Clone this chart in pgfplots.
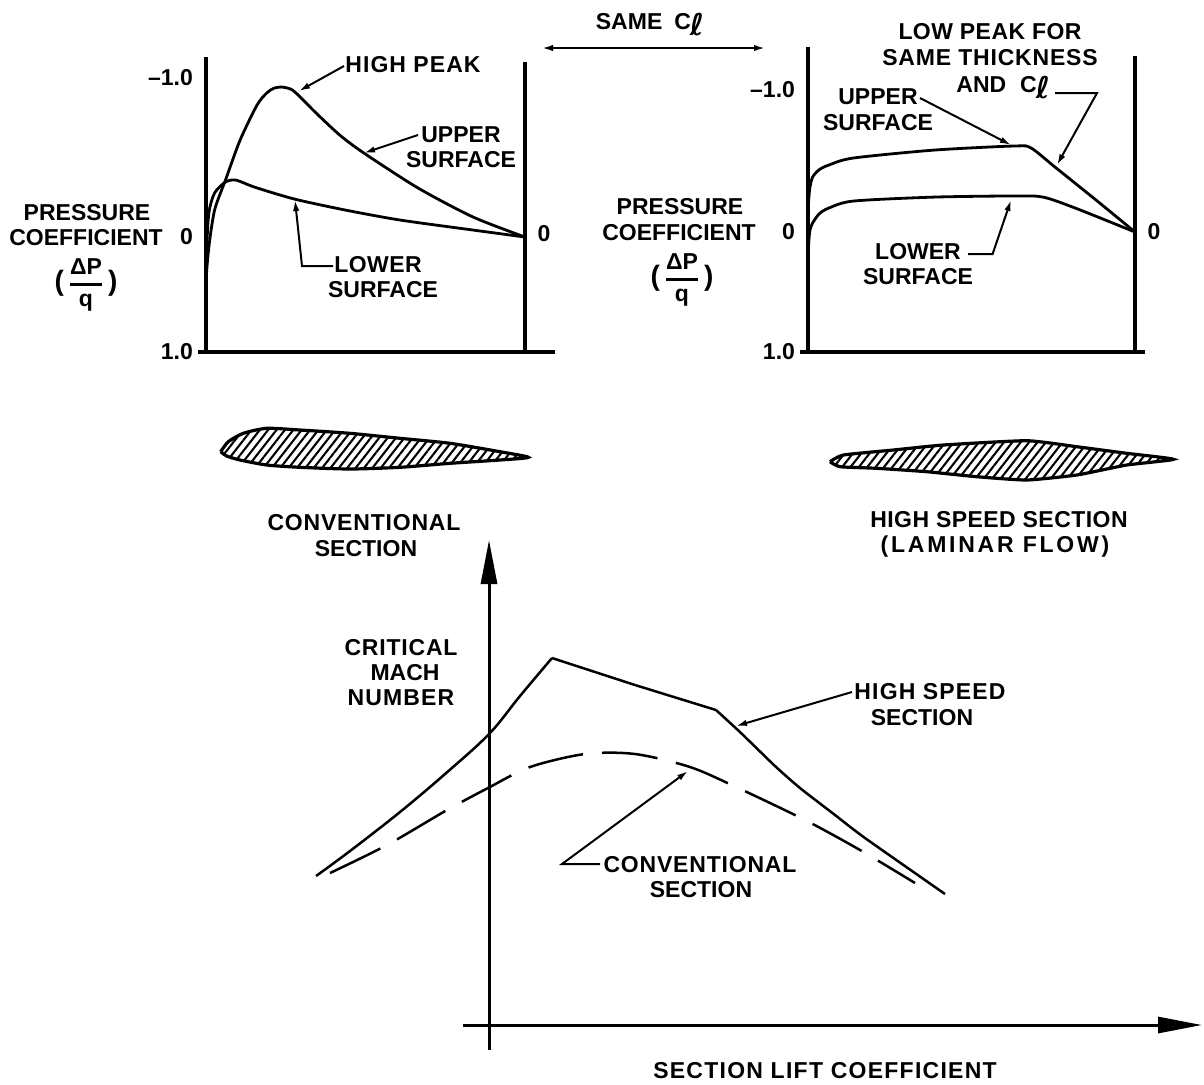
\documentclass[border=0pt]{standalone}
\usepackage{fontspec}
\setmainfont{Liberation Sans}
\newfontfamily\djv{DejaVu Sans Bold}
\usepackage{pgfplots}
\pgfplotsset{compat=1.18}
\usetikzlibrary{arrows.meta,patterns.meta}
\newcommand\lab{\bfseries\fontsize{11.5}{13}\selectfont}
\newcommand\ls[2]{{\addfontfeature{LetterSpace=#1}#2}}
\newcommand\Cl{C\hspace{-.5pt}\raisebox{-3pt}{\djv\fontsize{15}{15}\selectfont ℓ}}
\newcommand\dpq{{\fontsize{14}{14}\selectfont(}\,$\displaystyle{\hbox{ΔP}\above1.2pt\hbox{q}}$\,{\fontsize{14}{14}\selectfont)}}
\pgfplotsset{
  press/.style={
    scale only axis, clip=false,
    axis x line=bottom, axis y line=left,
    axis line style={line width=1.8pt,-},
    xtick=\empty, major tick length=0pt,
    xmin=0, xmax=1, y dir=reverse,
    tick label style={font=\lab},
    yticklabel style={xshift=-3pt},
  },
  curve/.style={black,line width=1.4pt,smooth,tension=.45,no markers},
  frame/.style={black,line width=1.8pt,no markers},
  mach/.style={black,line width=1.25pt,no markers},
  foil/.style={scale only axis,hide axis,clip=false},
  foilline/.style={black,line width=1.6pt,smooth,tension=.4,no markers,
    pattern={Lines[angle=52,distance=3.3pt,line width=1.05pt]}},
}
\begin{document}
\begin{tikzpicture}
\begin{scope}[x=0.5pt,y=0.5pt]
\useasboundingbox (0,0) rectangle (1204,-1084);
\end{scope}

% ---- left pressure distribution
\begin{axis}[press, at={(103pt,-176pt)}, anchor=south west, width=159.5pt, height=147.5pt,
  ymin=-1.132, ymax=0.723, ytick={-1,0,0.723},
  yticklabels={--1.0,0,\raisebox{-6pt}{1.0}}]
\addplot[curve] coordinates {(0,.60)(0,.289)(.009,.063)(.027,-.170)(.061,-.358)(.107,-.610)(.160,-.830)(.190,-.905)(.212,-.935)(.238,-.943)(.268,-.928)(.295,-.881)(.345,-.780)(.420,-.640)(.495,-.528)(.665,-.308)(.837,-.126)(1,0)};
\addplot[curve] coordinates {(0,.604)(.002,.101)(.009,-.151)(.027,-.277)(.061,-.346)(.094,-.358)(.152,-.314)(.277,-.239)(.436,-.170)(.608,-.107)(.837,-.044)(1,0)};
\addplot[frame] coordinates {(1,-1.10)(1,.723)};
\addplot[frame] coordinates {(-.025,.723)(1.095,.723)};
\end{axis}

% ---- right pressure distribution
\begin{axis}[press, at={(404pt,-176pt)}, anchor=south west, width=163.5pt, height=152.5pt,
  ymin=-1.303, ymax=0.845, ytick={-1,0,0.845},
  yticklabels={--1.0,0,\raisebox{-5pt}{1.0}}]
\addplot[curve] coordinates {(0,-.155)(.005,-.30)(.014,-.387)(.035,-.44)(.064,-.472)(.138,-.521)(.385,-.577)(.633,-.606)(.682,-.592)(.755,-.458)(.881,-.225)(1,0)};
\addplot[curve] coordinates {(0,.16)(.005,.0)(.014,-.063)(.035,-.13)(.064,-.169)(.138,-.218)(.385,-.246)(.633,-.254)(.719,-.246)(.817,-.169)(1,0)};
\addplot[frame] coordinates {(1,-1.24)(1,.845)};
\addplot[frame] coordinates {(-.025,.845)(1.03,.845)};
\end{axis}

% ---- airfoils
\begin{axis}[foil, at={(110pt,-238.5pt)}, anchor=south west, width=155pt, height=27.5pt, xmin=0, xmax=310, ymin=-25, ymax=30]
\addplot[foilline] coordinates {(0.7,0.3)(8.3,10.3)(23.3,18.7)(46.7,23.7)(80,22)(130,18.7)(180,13.7)(230,8.7)(280,0.3)(308.3,-5.3)(280,-8)(230,-11.3)(180,-15.3)(130,-17)(80,-15.3)(46.7,-13)(20,-8)(6.7,-4)(0.7,0.3)};
\end{axis}
\begin{axis}[foil, at={(415pt,-243.5pt)}, anchor=south west, width=172.5pt, height=27.5pt, xmin=0, xmax=345, ymin=-25, ymax=30]
\addplot[foilline,tension=.3] coordinates {(0,.3)(13.3,7)(63.3,12)(113.3,17)(196.7,21.3)(246.7,15.3)(296.7,8.7)(343.3,2.7)(296.7,-3)(246.7,-13)(196.7,-18)(146.7,-14.7)(96.7,-9.7)(46.7,-6.3)(10,-4.7)(0,.3)};
\end{axis}

% ---- critical Mach number
\begin{axis}[scale only axis, at={(231.5pt,-525pt)}, anchor=south west, width=369.5pt, height=255pt,
  clip=false, axis lines=middle, xtick=\empty, ytick=\empty,
  xmin=-26, xmax=713, ymin=-25, ymax=485,
  axis line style={line width=1.5pt,-{Triangle[length=22pt,width=8pt]}}]
\addplot[mach,smooth,tension=.6] coordinates {(-173,149)(-139,174)(-89,213)(-44,251)(0,291)(31,329)(63,367)};
\addplot[mach] coordinates {(63,367)(146,340)(227,315)};
\addplot[mach,smooth,tension=.4] coordinates {(227,315)(252,292)(286,259)(311,237)(346,210)(376,187)(456,131)};
\addplot[mach,smooth,tension=.5,dash pattern=on 28pt off 9.5pt] coordinates {(-159,152)(-102,180)(-42,215)(-1,237)(41,258)(96,271)(146,271)(201,258)(247,238)(316,205)(371,175)(426,142)};
\end{axis}

\begin{scope}[x=0.5pt,y=0.5pt,
  lbl/.style={font=\lab,inner sep=0pt,anchor=center},
  arr/.style={line width=1pt,-{Latex[length=5.5pt,width=3.2pt]}}]
\draw[{Latex[length=5.5pt,width=3.2pt]}-{Latex[length=5.5pt,width=3.2pt]},line width=1pt] (542,-48) -- (765,-48);
\node[lbl] at (650,-25) {SAME\hspace{6pt}\Cl};

\node[lbl] at (413,-65) {\ls{4.5}{HIGH PEAK}};
\draw[arr] (344,-66) -- (299,-91);
\node[lbl] at (461,-135) {UPPER};
\node[lbl] at (461,-160) {SURFACE};
\draw[arr] (418,-135) -- (364,-153);
\node[lbl] at (87,-213) {PRESSURE};
\node[lbl] at (86,-238) {COEFFICIENT};
\node[lbl] at (86,-285) {\dpq};
\node[lbl] at (378,-265) {\ls{2}{LOWER}};
\node[lbl] at (383,-290) {SURFACE};
\draw[arr] (333,-266) -- (302,-266) -- (295,-200);
\node[lbl] at (544,-234) {0};

\node[lbl] at (990,-32) {\ls{2}{LOW PEAK FOR}};
\node[lbl] at (990,-58) {\ls{3.5}{SAME THICKNESS}};
\node[lbl,anchor=west] at (956,-88) {AND\hspace{7pt}\Cl};
\draw[arr] (1055,-93) -- (1097,-93) -- (1057,-165);
\node[lbl] at (878,-97) {UPPER};
\node[lbl] at (878,-123) {SURFACE};
\draw[arr] (920,-98) -- (1011,-145);
\node[lbl] at (680,-207) {PRESSURE};
\node[lbl] at (679,-233) {COEFFICIENT};
\node[lbl] at (682,-280) {\dpq};
\node[lbl] at (918,-252) {LOWER};
\node[lbl] at (918,-277) {SURFACE};
\draw[arr] (968,-254) -- (992.6,-254) -- (1011,-200);
\node[lbl] at (1154,-232) {0};

\node[lbl] at (364,-523) {\ls{3.5}{CONVENTIONAL}};
\node[lbl] at (366,-549) {SECTION};
\node[lbl] at (999,-520) {\ls{2}{HIGH SPEED SECTION}};
\node[lbl] at (995,-547) {\ls{12}{(LAMINAR FLOW)}};

\node[lbl] at (401,-648) {\ls{3.5}{CRITICAL}};
\node[lbl] at (405,-673) {MACH};
\node[lbl] at (401,-698) {\ls{5}{NUMBER}};
\node[lbl] at (930,-692) {\ls{5}{HIGH SPEED}};
\node[lbl] at (922,-718) {SECTION};
\draw[arr] (852,-692) -- (736,-726);
\node[lbl] at (700,-865) {\ls{3.5}{CONVENTIONAL}};
\node[lbl] at (701,-890) {SECTION};
\draw[arr] (600,-864) -- (562,-864) -- (688,-771);
\node[lbl] at (825,-1071) {\ls{5.5}{SECTION LIFT COEFFICIENT}};
\end{scope}
\end{tikzpicture}
\end{document}
